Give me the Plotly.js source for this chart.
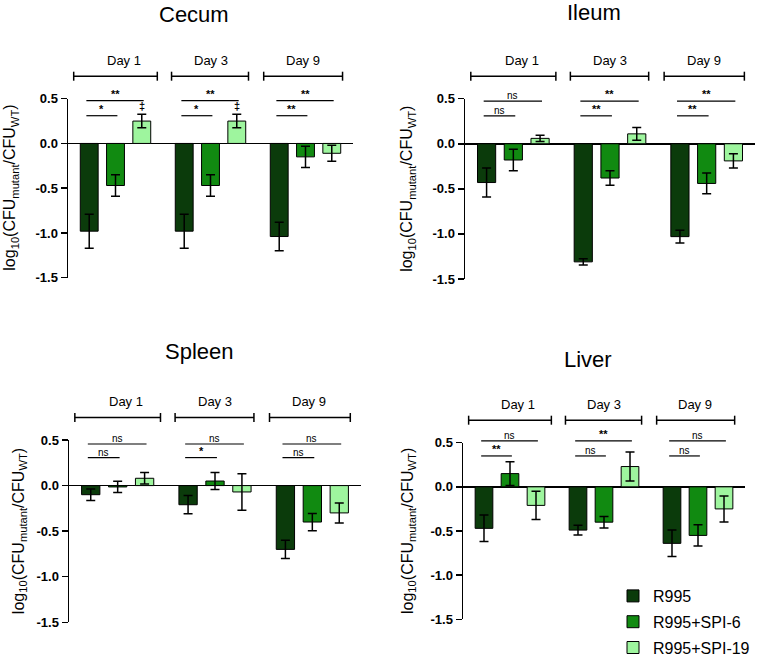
<!DOCTYPE html>
<html>
<head>
<meta charset="utf-8">
<script src="https://cdn.plot.ly/plotly-3.0.1.min.js"></script>
<style>body{margin:0;background:#fff}</style>
</head>
<body>
<div id="chart" style="width:757px;height:657px"></div>
<script>
var days = ['Day 1', 'Day 3', 'Day 9'];
var strains = ['R995', 'R995+SPI-6', 'R995+SPI-19'];
var barColors = ['#0b3b0b', '#118a11', '#9ef59e'];
var tickVals = [0.5, 0, -0.5, -1, -1.5];
var tickText = ['0.5', '0.0', '-0.5', '-1.0', '-1.5'];

// mean log10(CFU mutant / CFU WT) per strain, [day 1, day 3, day 9]
var cecumMean = [[-0.98, -0.98, -1.04], [-0.47, -0.47, -0.15], [0.25, 0.25, -0.11]];
var cecumErr = [[0.19, 0.19, 0.16], [0.12, 0.12, 0.12], [0.075, 0.075, 0.09]];
var ileumMean = [[-0.43, -1.31, -1.03], [-0.18, -0.38, -0.44], [0.06, 0.11, -0.19]];
var ileumErr = [[0.16, 0.035, 0.07], [0.12, 0.08, 0.115], [0.035, 0.07, 0.08]];
var spleenMean = [[-0.10, -0.21, -0.70], [-0.015, 0.05, -0.40], [0.08, -0.07, -0.30]];
var spleenErr = [[0.063, 0.10, 0.10], [0.062, 0.093, 0.095], [0.064, 0.20, 0.11]];
var liverMean = [[-0.47, -0.49, -0.64], [0.15, -0.40, -0.55], [-0.21, 0.23, -0.25]];
var liverErr = [[0.15, 0.055, 0.15], [0.135, 0.065, 0.12], [0.16, 0.165, 0.147]];

// significance per day: [R995 vs +SPI-6, R995 vs +SPI-19]
var cecumSig = [['*', '**'], ['*', '**'], ['**', '**']];
var ileumSig = [['ns', 'ns'], ['**', '**'], ['**', '**']];
var spleenSig = [['ns', 'ns'], ['*', 'ns'], ['ns', 'ns']];
var liverSig = [['**', 'ns'], ['ns', '**'], ['ns', 'ns']];
var cecumMark = ['\u2021', '\u2021', ''];   // over R995+SPI-19

var W = 757, H = 657;
var FONT = 'Arial, "Liberation Sans", sans-serif';

// pixel boxes of each plot area
var panels = [
  {name: 'Cecum', mean: cecumMean, err: cecumErr, sig: cecumSig, mark: cecumMark, ax: '',
   px: [68, 353], py: [98.7, 277.7], title: [194, 14], ytx: 10.5, sigY: [0.478, 0.31]},
  {name: 'Ileum', mean: ileumMean, err: ileumErr, sig: ileumSig, mark: null, ax: '2',
   px: [465, 755], py: [98.7, 279], title: [594, 12.5], ytx: 408, sigY: [0.474, 0.31]},
  {name: 'Spleen', mean: spleenMean, err: spleenErr, sig: spleenSig, mark: null, ax: '3',
   px: [69, 361], py: [440, 622.3], title: [199.5, 351], ytx: 19, sigY: [0.456, 0.307]},
  {name: 'Liver', mean: liverMean, err: liverErr, sig: liverSig, mark: null, ax: '4',
   px: [463, 745], py: [442.7, 619.3], title: [588, 359], ytx: 408, sigY: [0.52, 0.35]}
];

var bargap = 0.17;
var slot = (1 - bargap) / 3;
var bracketX = [[-0.44, 0.44], [-0.41, 0.40], [-0.44, 0.39]];
var dayLabelShift = [0.09, 0, -0.03];

var data = [];
var shapes = [];
var annotations = [];
var layout = {
  width: W, height: H,
  margin: {l: 0, r: 0, t: 0, b: 0, autoexpand: false},
  paper_bgcolor: '#fff', plot_bgcolor: '#fff',
  barmode: 'group', bargap: bargap, bargroupgap: 0.32,
  font: {family: FONT, color: '#000'},
  showlegend: true,
  legend: {x: 613 / W, y: 1 - 579 / H, xanchor: 'left', yanchor: 'top',
           font: {size: 16, family: FONT, color: '#000'}, tracegroupgap: 2,
           bgcolor: 'rgba(0,0,0,0)'}
};

function dom(v) { return (v + 1.5) / 2; }

panels.forEach(function(p, pi) {
  var xid = 'x' + p.ax, yid = 'y' + p.ax;
  var hpx = p.py[1] - p.py[0];
  for (var k = 0; k < 3; k++) {
    data.push({
      type: 'bar', x: days, y: p.mean[k], name: strains[k],
      xaxis: xid, yaxis: yid,
      legendgroup: strains[k], showlegend: pi === 0,
      marker: {color: barColors[k], line: {color: '#000', width: 1}},
      error_y: {type: 'data', array: p.err[k], visible: true, color: '#000', thickness: 1.5, width: 4.5},
      hoverinfo: 'y'
    });
  }
  layout['xaxis' + p.ax] = {
    domain: [p.px[0] / W, p.px[1] / W], anchor: yid,
    type: 'category', range: [-0.5, 2.5], fixedrange: true,
    showline: false, showticklabels: false, ticks: '', showgrid: false, zeroline: false
  };
  layout['yaxis' + p.ax] = {
    domain: [1 - p.py[1] / H, 1 - p.py[0] / H], anchor: xid,
    range: [-1.5, 0.5], fixedrange: true,
    tickmode: 'array', tickvals: tickVals, ticktext: tickText,
    ticks: 'outside', ticklen: 6, tickwidth: 1.5, tickcolor: '#000',
    showline: true, linecolor: '#000', linewidth: 1.5,
    showgrid: false, zeroline: true, zerolinecolor: '#000', zerolinewidth: 1.5,
    tickfont: {size: 13, family: FONT, color: '#000', weight: 'bold'}
  };

  // panel title
  annotations.push({xref: 'paper', yref: 'paper', x: p.title[0] / W, y: 1 - p.title[1] / H,
    xanchor: 'center', yanchor: 'middle', showarrow: false, text: p.name,
    font: {size: 22, family: FONT, color: '#000'}});
  // y title
  annotations.push({xref: 'paper', yref: 'paper', x: p.ytx / W, y: 1 - (p.py[0] + p.py[1]) / 2 / H,
    xanchor: 'center', yanchor: 'middle', showarrow: false, textangle: -90,
    text: 'log<sub>10</sub>(CFU<sub>mutant</sub>/CFU<sub>WT</sub>)',
    font: {size: 16, family: FONT, color: '#000'}});

  var ydom = yid + ' domain';
  var yBr = 1 + 22.5 / hpx, yLab = 1 + 38.5 / hpx;
  for (var d = 0; d < 3; d++) {
    // day bracket
    shapes.push({type: 'line', xref: xid, yref: ydom, x0: d + bracketX[d][0], x1: d + bracketX[d][1],
      y0: yBr, y1: yBr, line: {color: '#000', width: 1.5}});
    [0, 1].forEach(function(e) {
      shapes.push({type: 'line', xref: xid, yref: ydom, x0: d + bracketX[d][e], x1: d + bracketX[d][e],
        y0: 1 + 18 / hpx, y1: 1 + 27 / hpx, line: {color: '#000', width: 1.5}});
    });
    annotations.push({xref: xid, yref: ydom, x: d + dayLabelShift[d], y: yLab,
      xanchor: 'center', yanchor: 'middle', showarrow: false, text: days[d],
      font: {size: 13, family: FONT, color: '#000'}});

    // significance lines: short (vs SPI-6), long (vs SPI-19)
    for (var s = 0; s < 2; s++) {
      var xa = d - slot - 0.03, xb = d + s * slot + 0.02;
      var yl = dom(p.sigY[1 - s]);
      var lab = p.sig[d][s];
      shapes.push({type: 'line', xref: xid, yref: ydom, x0: xa, x1: xb, y0: yl, y1: yl,
        line: {color: '#000', width: 1.2}});
      annotations.push({xref: xid, yref: ydom, x: (xa + xb) / 2, y: yl,
        xanchor: 'center', yanchor: 'bottom', showarrow: false, text: lab,
        yshift: lab === 'ns' ? -2 : -1,
        font: {size: lab === 'ns' ? 10 : 11, family: FONT, color: '#000',
               weight: lab === 'ns' ? 'normal' : 'bold'}});
    }
    if (p.mark && p.mark[d]) {
      annotations.push({xref: xid, yref: yid, x: d + slot, y: p.mean[2][d] + p.err[2][d],
        xanchor: 'center', yanchor: 'bottom', showarrow: false, text: p.mark[d],
        font: {size: 11, family: FONT, color: '#000', weight: 'bold'}});
    }
  }
});

layout.shapes = shapes;
layout.annotations = annotations;

Plotly.newPlot('chart', data, layout, {displayModeBar: false, staticPlot: true});
</script>
</body>
</html>
